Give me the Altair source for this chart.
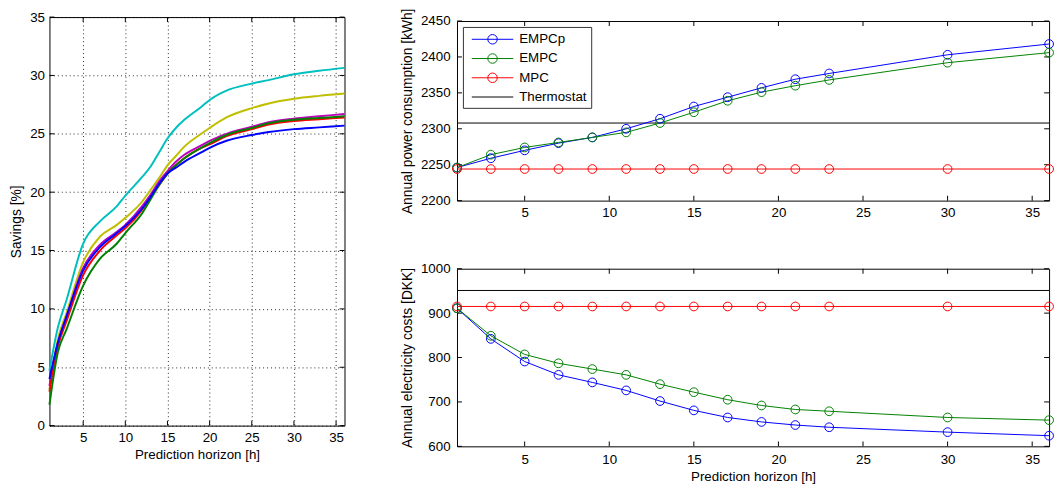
import altair as alt
import pandas as pd

FONT = "Liberation Sans"
FS = 13.5
YTFS = 14
TICK = 5

# ---------------- left panel data (savings vs horizon) ----------------
left_horizon = [1, 2, 3, 5, 7, 9, 10, 12, 13, 14, 15, 16, 17, 19, 20, 22, 25, 27, 30, 33, 36]
savings_cyan = [4.7, 8.4, 10.7, 15.6, 17.5, 18.8, 19.7, 21.3, 22.2, 23.4, 24.6, 25.5, 26.2, 27.3, 27.9, 28.7, 29.3, 29.6, 30.1, 30.4, 30.65]
savings_yellow = [3.1, 7.4, 9.6, 14.0, 16.2, 17.2, 17.8, 19.2, 20.2, 21.2, 22.3, 23.1, 23.9, 25.0, 25.5, 26.4, 27.2, 27.6, 28.0, 28.25, 28.45]
savings_magenta = [3.4, 7.1, 9.3, 13.5, 15.5, 16.6, 17.2, 18.8, 19.8, 20.9, 21.8, 22.6, 23.2, 24.0, 24.4, 25.0, 25.6, 26.0, 26.3, 26.5, 26.7]
savings_red = [2.9, 6.8, 8.9, 12.9, 15.0, 16.3, 16.9, 18.5, 19.6, 20.6, 21.6, 22.3, 22.9, 23.8, 24.1, 24.8, 25.4, 25.8, 26.1, 26.25, 26.4]
savings_green = [1.8, 6.3, 8.2, 12.0, 14.3, 15.6, 16.5, 18.2, 19.4, 20.6, 21.6, 22.3, 22.9, 23.8, 24.2, 24.9, 25.5, 25.9, 26.2, 26.35, 26.5]
savings_blue = [4.0, 7.1, 9.3, 13.3, 15.3, 16.5, 17.1, 18.6, 19.6, 20.7, 21.6, 22.1, 22.6, 23.4, 23.8, 24.4, 24.9, 25.15, 25.4, 25.55, 25.7]
left_series = ["s1", "s2", "s3", "s4", "s5", "s6"]
left_colors = ["#00BFBF", "#BFBF00", "#BF00BF", "#FF0000", "#008000", "#0000FF"]
left_widths = [2, 2, 2.5, 3, 1.5, 2]

# ---------------- right panels data ----------------
horizons = [1, 3, 5, 7, 9, 11, 13, 15, 17, 19, 21, 23, 30, 36]
energy_empcp = [2246, 2259, 2270, 2280, 2288, 2300, 2314, 2331, 2344, 2357, 2369, 2377, 2403, 2418]
energy_empc = [2246, 2264, 2274, 2281, 2288, 2295, 2308, 2323, 2339, 2351, 2360, 2368, 2392, 2406]
energy_mpc = [2244, 2244, 2244, 2244, 2244, 2244, 2244, 2244, 2244, 2244, 2244, 2244, 2244, 2244]
energy_thermostat = 2308
cost_empcp = [911, 842, 791, 761, 744, 726, 702, 681, 665, 655, 648, 643, 632, 624]
cost_empc = [911, 849, 807, 787, 774, 761, 740, 722, 705, 692, 683, 679, 665, 659]
cost_mpc = [915, 915, 915, 915, 915, 915, 915, 915, 915, 915, 915, 915, 915, 915]
cost_thermostat = 951
methods = ["EMPCp", "EMPC", "MPC", "Thermostat"]
method_colors = ["#0000FF", "#008000", "#FF0000", "#000000"]

x_ticks = [5, 10, 15, 20, 25, 30, 35]
left_y_ticks = [0, 5, 10, 15, 20, 25, 30, 35]
energy_ticks = [2200, 2250, 2300, 2350, 2400, 2450]
cost_ticks = [600, 700, 800, 900, 1000]

# legend symbols: a line with a circle (markers) / a plain line
SYM_MARK = "M-0.4375,0L4.8125,0M2.7875,0A0.6,0.6,0,1,1,1.5875,0A0.6,0.6,0,1,1,2.7875,0"
SYM_LINE = "M-0.4375,0L4.8125,0"


def long_df(xs, named):
    rows = []
    for name, vals in named:
        for x, v in zip(xs, vals):
            rows.append({"h": x, "v": v, "series": name})
    return pd.DataFrame(rows)


def axis_layers(xdom, ydom, yticks, xtitle, ytitle, grid, ylabpad, ytitlepad, xlabpad, xtitlepad, w, h):
    corner = pd.DataFrame({"h": list(xdom), "v": list(ydom)})
    xs = alt.Scale(domain=list(xdom), nice=False, zero=False)
    ys = alt.Scale(domain=list(ydom), nice=False, zero=False)
    lab = alt.Chart(corner).mark_point(opacity=0).encode(
        x=alt.X("h:Q", scale=xs, axis=alt.Axis(orient="bottom", values=x_ticks, ticks=False, domain=False,
                                               grid=grid, labelPadding=xlabpad, title=xtitle,
                                               titlePadding=xtitlepad, format="d")),
        y=alt.Y("v:Q", scale=ys, axis=alt.Axis(orient="left", values=yticks, ticks=False, domain=False,
                                               grid=grid, labelPadding=ylabpad, title=ytitle,
                                               titleFontSize=YTFS, titlePadding=ytitlepad, format="d")),
    )
    # inward tick marks on all four sides (MATLAB box style)
    xt = alt.Chart(pd.DataFrame({"h": x_ticks}))
    yt = alt.Chart(pd.DataFrame({"v": yticks}))
    tb = xt.mark_tick(orient="vertical", size=TICK, thickness=1, color="black", opacity=1).encode(
        x=alt.X("h:Q", scale=xs, axis=None), y=alt.value(h - TICK / 2))
    tt = xt.mark_tick(orient="vertical", size=TICK, thickness=1, color="black", opacity=1).encode(
        x=alt.X("h:Q", scale=xs, axis=None), y=alt.value(TICK / 2))
    tl = yt.mark_tick(orient="horizontal", size=TICK, thickness=1, color="black", opacity=1).encode(
        y=alt.Y("v:Q", scale=ys, axis=None), x=alt.value(TICK / 2))
    tr = yt.mark_tick(orient="horizontal", size=TICK, thickness=1, color="black", opacity=1).encode(
        y=alt.Y("v:Q", scale=ys, axis=None), x=alt.value(w - TICK / 2))
    return [lab, tb, tt, tl, tr], xs, ys


# ---------------- left panel ----------------
LW, LH = 299, 414
left_df = long_df(left_horizon, list(zip(left_series, [savings_cyan, savings_yellow, savings_magenta,
                                                       savings_red, savings_green, savings_blue])))
l_axes, lxs, lys = axis_layers((1, 36), (0, 35), left_y_ticks, "Prediction horizon [h]", "Savings [%]",
                               True, 5, 6, 5, 4, LW, LH)
left_lines = alt.Chart(left_df).mark_line(interpolate="monotone").encode(
    x=alt.X("h:Q", scale=lxs, axis=None),
    y=alt.Y("v:Q", scale=lys, axis=None),
    color=alt.Color("series:N", scale=alt.Scale(domain=left_series, range=left_colors), legend=None),
    strokeWidth=alt.StrokeWidth("series:N", scale=alt.Scale(domain=left_series, range=left_widths), legend=None),
)
left = alt.layer(*l_axes, left_lines).resolve_axis(x="independent", y="independent").properties(
    width=LW, height=LH)


# ---------------- right panels ----------------
RW = 600


def right_panel(emp, em, mp, thermo, ydom, yticks, ytitle, xtitle, with_legend, height, xlabpad):
    df = long_df(horizons, [("EMPCp", emp), ("EMPC", em), ("MPC", mp)])
    axes, xs, ys = axis_layers((1, 36), ydom, yticks, xtitle, ytitle, False, 7, 6, xlabpad, 4, RW, height)
    cscale = alt.Scale(domain=methods, range=method_colors)
    if with_legend:
        col = alt.Color("series:N", scale=cscale)
    else:
        col = alt.Color("series:N", scale=cscale, legend=None)
    rule = alt.Chart(pd.DataFrame({"v": [thermo]})).mark_rule(color="black", strokeWidth=1).encode(
        y=alt.Y("v:Q", scale=ys, axis=None))
    lines = alt.Chart(df).mark_line(strokeWidth=1).encode(
        x=alt.X("h:Q", scale=xs, axis=None), y=alt.Y("v:Q", scale=ys, axis=None), color=col)
    pts = alt.Chart(df).mark_point(filled=False, size=78, strokeWidth=1, opacity=1).encode(
        x=alt.X("h:Q", scale=xs, axis=None), y=alt.Y("v:Q", scale=ys, axis=None), color=col)
    layers = []
    if with_legend:
        leg = alt.Chart(pd.DataFrame({"series": methods})).mark_point(opacity=0, filled=False).encode(
            x=alt.value(0), y=alt.value(0),
            color=alt.Color("series:N", scale=cscale, legend=alt.Legend(
                title=None, orient="top-left", offset=6, padding=4, strokeColor="#333333",
                fillColor="white", symbolSize=256, symbolStrokeWidth=1, symbolFillColor="transparent",
                symbolOpacity=1, symbolType="circle",
                labelFont=FONT, labelFontSize=FS, labelColor="black", labelOffset=36, rowPadding=3.5)),
            shape=alt.Shape("series:N", scale=alt.Scale(domain=methods,
                                                         range=[SYM_MARK, SYM_MARK, SYM_MARK, SYM_LINE]),
                            legend=alt.Legend(title=None)),
        )
        layers.append(leg)
    layers += axes + [rule, lines, pts]
    return alt.layer(*layers).resolve_axis(x="independent", y="independent").properties(
        width=RW, height=height)


top = right_panel(energy_empcp, energy_empc, energy_mpc, energy_thermostat, (2200, 2450), energy_ticks,
                  "Annual power consumption [kWh]", None, True, 182, 5)
bottom = right_panel(cost_empcp, cost_empc, cost_mpc, cost_thermostat, (600, 1000), cost_ticks,
                     "Annual electricity costs [DKK]", "Prediction horizon [h]", False, 180, 6)


def spacer(h):
    return alt.Chart(pd.DataFrame({"a": [0]})).mark_point(opacity=0).properties(
        width=RW, height=h, view=alt.ViewBackground(strokeOpacity=0))


right = alt.vconcat(spacer(4), top, spacer(69), bottom, spacing=0, bounds="flush").resolve_scale(
    color="independent", shape="independent")

chart = alt.hconcat(left, right, spacing=114, bounds="flush").resolve_scale(
    color="independent", shape="independent", strokeWidth="independent"
).properties(
    padding={"left": 1, "top": -4, "right": 0, "bottom": 0}
).configure_axis(
    labelFont=FONT, labelFontSize=FS, labelColor="black",
    titleFont=FONT, titleFontSize=FS, titleFontWeight="normal", titleColor="black",
    gridColor="black", gridDash=[1, 3], gridOpacity=0.85, gridWidth=1,
).configure_view(stroke="black", strokeWidth=1)

chart.save("out.html", embed_options={"renderer": "svg", "actions": False})
